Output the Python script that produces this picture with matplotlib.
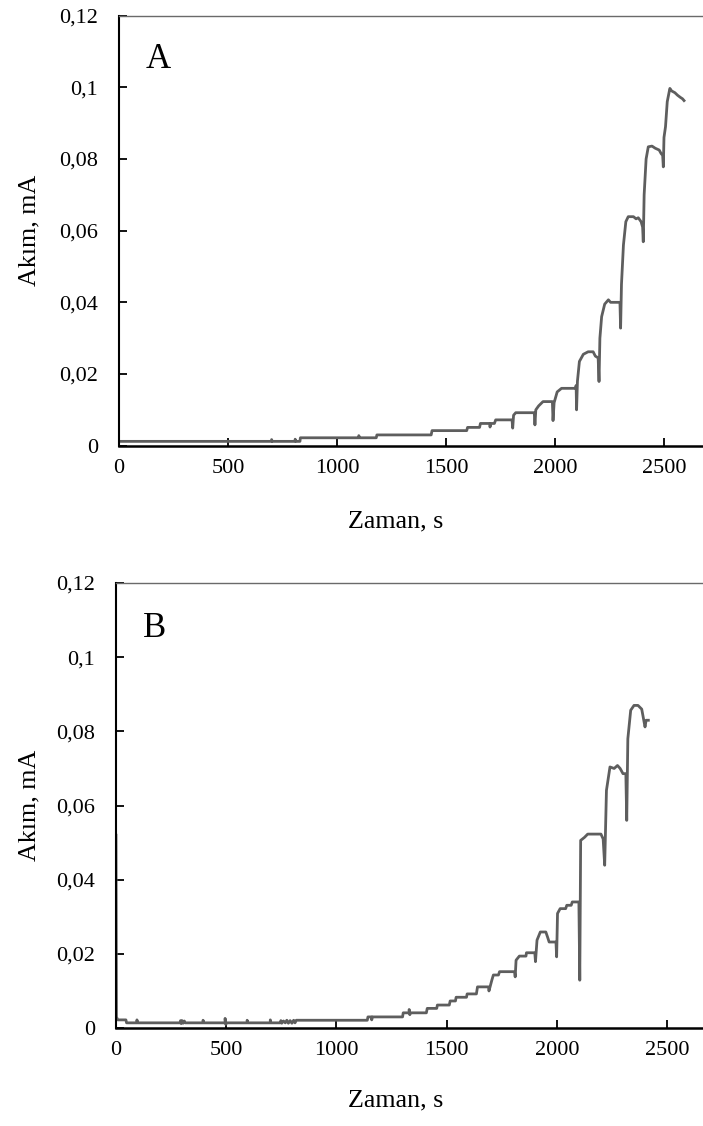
import matplotlib
matplotlib.use("Agg")
import matplotlib.pyplot as plt

plt.rcParams['font.family'] = ['Liberation Serif', 'DejaVu Serif']

# panel A: time (s) and current (mA)
time_a = [0, 700, 700, 703, 808, 808, 811, 830, 832, 1100, 1100, 1103, 1180, 1183,
          1432, 1436, 1595, 1599, 1654, 1658, 1700, 1702, 1706, 1722, 1728,
          1803, 1806, 1810, 1820, 1905, 1908, 1912, 1925, 1945,
          1988, 1991, 1996, 2010, 2030, 2094, 2097, 2099, 2103, 2112, 2130, 2152,
          2175, 2185, 2198, 2202, 2206, 2214, 2228, 2245, 2255, 2298, 2301, 2305,
          2314, 2325, 2336, 2360, 2372, 2382, 2395, 2402, 2405, 2409, 2418, 2428,
          2445, 2460, 2478, 2487, 2494, 2497, 2500, 2507, 2515, 2527,
          2535, 2550, 2562, 2575, 2585, 2592]
current_a = [0.0012, 0.0012, 0.0017, 0.0012, 0.0012, 0.0018, 0.0012, 0.0012, 0.0022,
             0.0022, 0.0028, 0.0022, 0.0022, 0.003,
             0.003, 0.0042, 0.0042, 0.0051, 0.0051, 0.0062, 0.0062, 0.0052, 0.0062,
             0.0062, 0.0072,
             0.0072, 0.0049, 0.0085, 0.0092, 0.0092, 0.0058, 0.0100, 0.0111, 0.0123,
             0.0123, 0.0070, 0.0120, 0.0150, 0.0160, 0.0160, 0.0168, 0.0100, 0.0180,
             0.0235, 0.0255, 0.0262,
             0.0262, 0.0250, 0.0245, 0.0179, 0.0300, 0.0360, 0.0395, 0.0407, 0.0400,
             0.0400, 0.0328, 0.0450,
             0.0560, 0.0625, 0.0639, 0.0639, 0.0633, 0.0636, 0.0625, 0.0610, 0.0569,
             0.0700, 0.0800, 0.0834,
             0.0836, 0.0830, 0.0825, 0.0815, 0.0810, 0.0778, 0.0860, 0.0890, 0.0960,
             0.0997,
             0.0990, 0.0985, 0.0978, 0.0972, 0.0968, 0.0963]

# panel B
time_b = [0, 2, 8, 45, 48, 95, 95, 98, 290, 293, 296, 300, 305, 310, 314,
          395, 395, 398, 495, 495, 498, 501, 595, 595, 598, 700, 700, 703,
          745, 748, 752, 760, 768, 775, 782, 790, 798, 806, 812, 818,
          1140, 1143, 1160, 1160, 1163, 1300, 1303, 1330, 1330, 1333, 1336,
          1408, 1412, 1455, 1458, 1512, 1516, 1540, 1543, 1590, 1593, 1635, 1640,
          1690, 1692, 1697, 1705, 1712, 1735, 1740, 1808, 1811, 1815, 1830, 1860,
          1862, 1900, 1903, 1910, 1925, 1950, 1958, 1965, 1996, 1999, 2003, 2015,
          2040, 2045, 2065, 2070, 2100, 2104, 2108, 2125, 2140, 2200, 2210, 2217,
          2225, 2241, 2260, 2275, 2287, 2300, 2313, 2317, 2322, 2335, 2350, 2368,
          2385, 2400, 2405, 2415]
current_b = [0.052, 0.003, 0.0022, 0.0022, 0.0014, 0.0014, 0.0022, 0.0014,
             0.0014, 0.0020, 0.0012, 0.0020, 0.0013, 0.0019, 0.0014,
             0.0014, 0.0021, 0.0014, 0.0014, 0.0026, 0.0010, 0.0014, 0.0014, 0.0021,
             0.0014, 0.0014, 0.0022, 0.0014,
             0.0014, 0.0020, 0.0013, 0.0019, 0.0014, 0.0021, 0.0013, 0.0020, 0.0013,
             0.0021, 0.0014, 0.0021,
             0.0021, 0.003, 0.003, 0.0022, 0.003, 0.003, 0.0041, 0.0041, 0.005,
             0.0036, 0.0041,
             0.0041, 0.0053, 0.0053, 0.0062, 0.0062, 0.0073, 0.0073, 0.0083, 0.0083,
             0.0092, 0.0092, 0.0111,
             0.0111, 0.0100, 0.0111, 0.0129, 0.0143, 0.0143, 0.0152, 0.0152, 0.0138,
             0.0183, 0.0194, 0.0194,
             0.0203, 0.0203, 0.0179, 0.0237, 0.0259, 0.0259, 0.0245, 0.0232, 0.0232,
             0.0192, 0.0309, 0.0322,
             0.0322, 0.0331, 0.0331, 0.0340, 0.0340, 0.0129, 0.0506, 0.0514, 0.0523,
             0.0523, 0.0510, 0.0439,
             0.0641, 0.0704, 0.0700, 0.0708, 0.0700, 0.0686, 0.0686, 0.0560, 0.0780,
             0.0857, 0.0870, 0.0870,
             0.0860, 0.0812, 0.0830, 0.0830]

y_ticks = [0, 0.02, 0.04, 0.06, 0.08, 0.1, 0.12]
y_labels = ['0', '0,02', '0,04', '0,06', '0,08', '0,1', '0,12']
x_ticks = [0, 500, 1000, 1500, 2000, 2500]

line_col = '#5e5e5e'

fig = plt.figure(figsize=(7.03, 11.26), dpi=100)
ax_a = fig.add_axes([0.1693, 0.6042, 0.8307, 0.3819])
ax_b = fig.add_axes([0.1650, 0.0870, 0.8350, 0.3952])

panels = [(ax_a, time_a, current_a, 'A', 2679),
          (ax_b, time_b, current_b, 'B', 2663)]

for ax, t, c, tag, xmax in panels:
    ax.plot(t, c, color=line_col, lw=2.0, solid_joinstyle='round')
    ax.set_xlim(0, xmax)
    ax.set_ylim(0, 0.12)
    ax.set_yticks(y_ticks)
    ax.set_yticklabels(y_labels)
    ax.set_xticks(x_ticks)
    ax.tick_params(direction='in', length=5.5, width=1.3, labelsize=16,
                   colors='black')
    ax.tick_params(axis='y', pad=15)
    ax.tick_params(axis='x', pad=9.5)
    ax.spines['right'].set_visible(False)
    ax.spines['top'].set_color('#6a6a6a')
    ax.spines['top'].set_linewidth(1.0)
    ax.spines['left'].set_linewidth(1.5)
    ax.spines['bottom'].set_linewidth(1.8)
    ax.set_ylabel('Akım, mA', fontsize=18.7)
    ax.set_xlabel('Zaman, s', fontsize=18.7)
    ax.text(0.046, 0.878, tag, transform=ax.transAxes, fontsize=25,
            va='baseline', ha='left')

ax_a.yaxis.set_label_coords(-0.135, 0.5)
ax_a.xaxis.set_label_coords(0.474, -0.15)
ax_b.yaxis.set_label_coords(-0.129, 0.5)
ax_b.xaxis.set_label_coords(0.477, -0.137)

fig.savefig('out.png', dpi=100)
